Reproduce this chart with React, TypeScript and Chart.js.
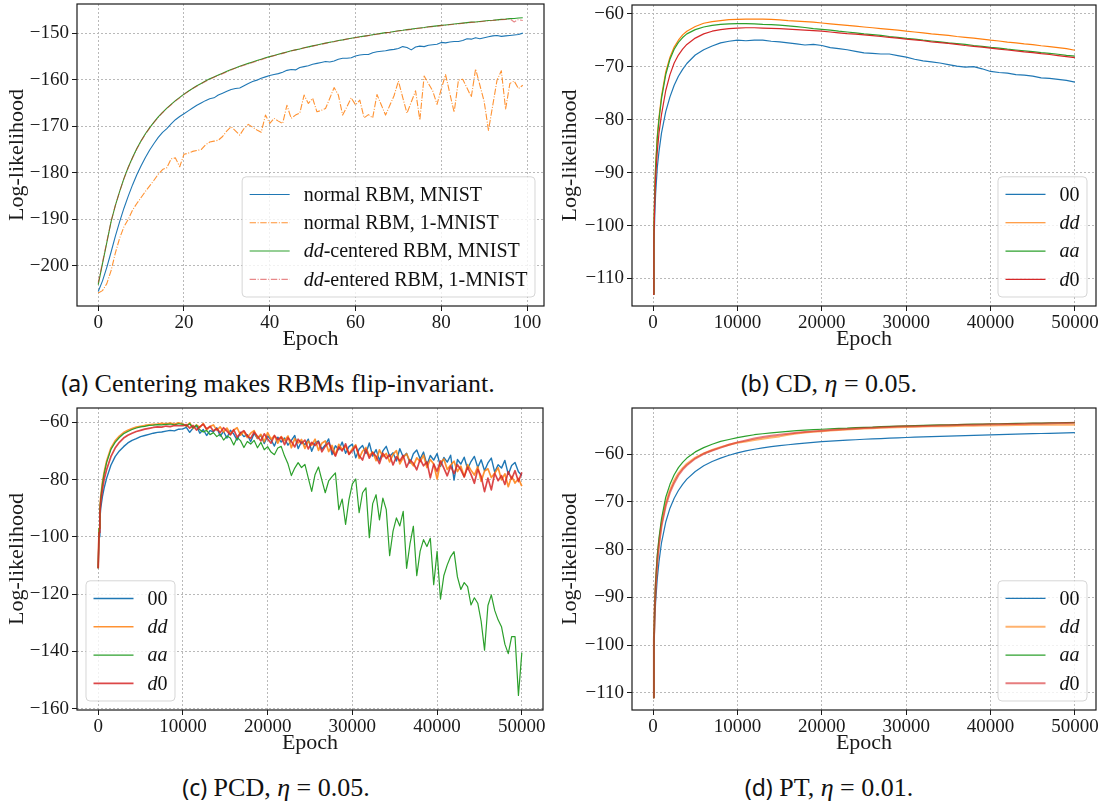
import React, { useEffect, useRef } from "react";
import { Chart, registerables } from "chart.js";
Chart.register(...registerables);

const FONT = '"Liberation Serif", "Times New Roman", serif';
Chart.defaults.font.family = FONT;

const BLUE = "#1f77b4";
const ORANGE = "#ff7f0e";
const GREEN = "#2ca02c";
const RED = "#d62728";
const DASHDOT = [6.4, 1.6, 1, 1.6];

// ---------- Panel (a) ----------
const EPOCHS_A = Array.from({ length: 100 }, (_, i) => i);
const A_NORMAL_MNIST = [
  -205.5, -203.2, -200.3, -197.0, -193.6, -190.5, -187.6, -185.0, -182.6, -180.4,
  -178.5, -176.7, -175.1, -173.7, -172.4, -171.3, -170.5, -169.5, -168.6, -167.9,
  -167.3, -166.7, -166.1, -165.5, -165.0, -164.5, -164.1, -163.9, -163.3, -162.9,
  -162.5, -162.1, -161.9, -161.8, -161.3, -160.8, -160.4, -160.1, -159.7, -159.4,
  -159.1, -158.9, -158.7, -158.4, -158.0, -157.8, -157.9, -157.4, -157.2, -157.0,
  -156.7, -156.5, -156.3, -156.1, -156.2, -156.0, -155.6, -155.4, -155.4, -155.3,
  -154.9, -154.7, -154.6, -154.6, -154.2, -154.0, -153.9, -153.8, -153.6, -153.5,
  -153.3, -152.9, -153.1, -153.6, -153.0, -152.8, -152.9, -152.6, -152.5, -152.4,
  -152.0, -152.1, -151.9, -151.8, -151.8, -151.6, -151.2, -151.3, -151.0, -151.2,
  -151.0, -150.8, -150.6, -150.5, -150.7, -150.6, -150.5, -150.4, -150.3, -150.0,
];
const A_NORMAL_1MNIST = [
  -205.8, -205.3, -203.8, -201.0, -197.2, -194.0, -191.6, -190.0, -188.0, -186.6,
  -185.3, -184.0, -182.8, -181.6, -180.3, -179.3, -178.9, -177.0, -176.8, -178.7,
  -176.0, -175.8, -175.4, -175.2, -175.0, -174.0, -173.4, -173.2, -173.0, -172.2,
  -171.0, -170.1, -171.0, -171.9, -170.5, -169.6, -170.2, -170.8, -171.3, -167.6,
  -169.4, -168.3, -168.9, -169.4, -165.5, -168.3, -167.6, -167.2, -163.3, -165.1,
  -164.0, -166.9, -166.6, -166.2, -164.0, -161.7, -163.3, -167.6, -165.8, -163.9,
  -165.4, -164.4, -168.2, -167.5, -168.2, -163.2, -165.4, -167.6, -165.5, -163.4,
  -160.3, -163.8, -167.2, -164.8, -162.4, -168.7, -159.2, -160.8, -162.4, -165.3,
  -162.0, -158.9, -163.0, -167.0, -160.1, -159.9, -161.8, -163.7, -157.7, -161.2,
  -164.7, -170.9, -165.5, -160.1, -158.1, -166.3, -160.8, -160.3, -161.9, -161.2,
];
const A_DD_MNIST = [
  -204.0, -199.5, -195.0, -190.5, -187.0, -184.0, -181.2, -178.8, -176.7, -174.8,
  -173.1, -171.6, -170.3, -169.1, -168.0, -167.0, -166.1, -165.3, -164.5, -163.8,
  -163.1, -162.5, -161.9, -161.3, -160.8, -160.3, -159.8, -159.4, -159.0, -158.6,
  -158.2, -157.8, -157.5, -157.1, -156.8, -156.5, -156.2, -155.9, -155.6, -155.3,
  -155.05, -154.8, -154.55, -154.3, -154.05, -153.8, -153.6, -153.4, -153.15, -152.95,
  -152.75, -152.55, -152.35, -152.15, -151.95, -151.8, -151.6, -151.45, -151.25, -151.1,
  -150.95, -150.8, -150.65, -150.5, -150.35, -150.2, -150.05, -149.9, -149.8, -149.65,
  -149.5, -149.4, -149.25, -149.15, -149.0, -148.9, -148.8, -148.65, -148.55, -148.45,
  -148.35, -148.25, -148.15, -148.05, -147.95, -147.85, -147.75, -147.65, -147.6, -147.5,
  -147.4, -147.3, -147.25, -147.15, -147.05, -147.0, -146.9, -146.85, -146.75, -146.7,
];
const A_DD_1MNIST = [
  -203.6, -199.2, -194.8, -190.4, -187.0, -184.0, -181.3, -178.9, -176.8, -174.9,
  -173.2, -171.7, -170.4, -169.2, -168.1, -167.1, -166.2, -165.4, -164.6, -163.9,
  -163.2, -162.5, -161.9, -161.4, -160.9, -160.4, -159.9, -159.5, -159.1, -158.7,
  -158.3, -157.9, -157.5, -157.2, -156.9, -156.6, -156.3, -156.0, -155.7, -155.4,
  -155.1, -154.85, -154.6, -154.35, -154.1, -153.85, -153.6, -153.4, -153.2, -153.0,
  -152.8, -152.6, -152.4, -152.2, -152.0, -151.85, -151.65, -151.5, -151.3, -151.15,
  -151.0, -150.85, -150.7, -150.55, -150.4, -150.25, -150.1, -149.95, -149.85, -149.7,
  -149.55, -149.45, -149.3, -149.2, -149.05, -148.95, -148.85, -148.7, -148.6, -148.5,
  -148.4, -148.3, -148.2, -148.1, -148.05, -147.9, -147.8, -147.7, -147.65, -147.55,
  -147.45, -147.35, -147.3, -147.2, -147.1, -147.05, -146.95, -147.6, -147.1, -147.3,
];
const A_X_TICKS = [0, 20, 40, 60, 80, 100];
const A_Y_TICKS = [-200, -190, -180, -170, -160, -150];

// ---------- Panels (b) and (d): shared epoch grid ----------
const EPOCHS_BD = [
  0, 100, 200, 300, 500, 700, 1000, 1500, 2000, 2500, 3000, 3500, 4000, 5000, 6000, 7000, 8000, 9000,
  ...Array.from({ length: 41 }, (_, i) => 10000 + 1000 * i),
];

// Panel (b) CD
const B_00 = [
  -113, -104, -98, -94, -89, -86, -82.5, -78.5, -75.7, -73.5, -71.8, -70.5, -69.4, -67.8, -66.8, -66.1, -65.5, -65.2,
  -65.0, -65.1, -65.0, -65.0, -65.2, -65.3, -65.5, -65.7, -65.9, -65.8,
  -66.0, -66.4, -66.6, -66.8, -67.1, -67.4, -67.5, -67.6, -67.6, -67.9,
  -68.2, -68.6, -68.9, -69.1, -69.3, -69.6, -69.9, -70.1, -70.0, -70.4,
  -70.9, -71.1, -71.2, -71.5, -71.6, -71.8, -72.1, -72.2, -72.4, -72.6, -72.9,
];
const B_DD = [
  -113, -100, -93, -88.5, -83, -79.5, -75.5, -71, -68.2, -66.3, -65, -64, -63.3, -62.4, -61.8, -61.5, -61.3, -61.1,
  -61.05, -61.0, -61.0, -61.0, -61.05, -61.15, -61.3, -61.4, -61.5, -61.6,
  -61.75, -61.9, -62.05, -62.2, -62.35, -62.5, -62.65, -62.8, -62.95, -63.1,
  -63.3, -63.45, -63.6, -63.8, -63.95, -64.1, -64.3, -64.45, -64.6, -64.8,
  -65.0, -65.15, -65.35, -65.5, -65.7, -65.85, -66.05, -66.2, -66.4, -66.6, -66.9,
];
const B_AA = [
  -113, -100.5, -93.5, -89, -83.5, -80, -76, -71.5, -68.6, -66.7, -65.4, -64.5, -63.8, -63.0, -62.5, -62.2, -62.0, -61.9,
  -61.85, -61.85, -61.9, -62.0, -62.05, -62.15, -62.3, -62.45, -62.6, -62.8,
  -62.95, -63.1, -63.3, -63.45, -63.6, -63.8, -63.95, -64.1, -64.3, -64.45,
  -64.65, -64.8, -65.0, -65.15, -65.3, -65.5, -65.65, -65.8, -66.0, -66.15,
  -66.35, -66.5, -66.7, -66.85, -67.0, -67.15, -67.35, -67.5, -67.65, -67.85, -68.0,
];
const B_D0 = [
  -113, -102, -95.5, -91, -86, -82.5, -79, -74.5, -71.5, -69.3, -67.8, -66.7, -65.8, -64.6, -63.8, -63.3, -63.0, -62.8,
  -62.7, -62.65, -62.65, -62.7, -62.75, -62.8, -62.9, -63.0, -63.1, -63.2,
  -63.3, -63.45, -63.6, -63.75, -63.85, -64.0, -64.15, -64.3, -64.45, -64.6,
  -64.8, -64.95, -65.1, -65.3, -65.45, -65.6, -65.8, -66.0, -66.15, -66.3,
  -66.5, -66.7, -66.85, -67.0, -67.2, -67.35, -67.55, -67.7, -67.9, -68.1, -68.3,
];

// Panel (d) PT
const D_00 = [
  -111, -101, -95, -91, -86, -82.5, -78.5, -74.2, -71.3, -69.2, -67.6, -66.3, -65.2, -63.6, -62.4, -61.5, -60.8, -60.2,
  -59.7, -59.3, -58.95, -58.65, -58.4, -58.2, -58.0, -57.8, -57.65, -57.5,
  -57.35, -57.25, -57.15, -57.05, -56.95, -56.85, -56.78, -56.7, -56.62, -56.55,
  -56.48, -56.42, -56.36, -56.3, -56.25, -56.2, -56.14, -56.08, -56.02, -55.97,
  -55.92, -55.87, -55.82, -55.78, -55.73, -55.68, -55.64, -55.6, -55.56, -55.52, -55.45,
];
const D_DD = [
  -111, -98.5, -92, -87.5, -82, -78.5, -74.5, -70.2, -67.5, -65.5, -64, -62.9, -62.0, -60.7, -59.8, -59.1, -58.5, -58.0,
  -57.6, -57.3, -57.0, -56.75, -56.5, -56.25, -55.9, -55.65, -55.45, -55.3,
  -55.15, -55.0, -54.9, -54.8, -54.7, -54.6, -54.55, -54.45, -54.4, -54.35,
  -54.3, -54.25, -54.2, -54.15, -54.12, -54.1, -54.07, -54.04, -54.0, -53.98,
  -53.95, -53.93, -53.9, -53.88, -53.85, -53.83, -53.82, -53.8, -53.8, -53.78, -53.8,
];
const D_AA = [
  -111, -98, -91, -86.5, -81, -77.5, -73.5, -69, -66.3, -64.3, -62.8, -61.7, -60.8, -59.5, -58.6, -57.9, -57.3, -56.9,
  -56.5, -56.2, -55.9, -55.7, -55.5, -55.35, -55.2, -55.05, -54.95, -54.85,
  -54.75, -54.65, -54.55, -54.5, -54.4, -54.35, -54.3, -54.2, -54.15, -54.1,
  -54.05, -54.0, -53.95, -53.9, -53.85, -53.82, -53.78, -53.75, -53.7, -53.67,
  -53.63, -53.6, -53.57, -53.54, -53.5, -53.48, -53.45, -53.42, -53.4, -53.37, -53.35,
];
const D_D0 = [
  -111, -98.8, -92.3, -88, -82.5, -79, -75, -70.8, -68, -66, -64.4, -63.2, -62.3, -60.9, -59.9, -59.2, -58.6, -58.0,
  -57.5, -57.1, -56.7, -56.4, -56.1, -55.9, -55.7, -55.5, -55.35, -55.2,
  -55.05, -54.9, -54.8, -54.7, -54.6, -54.5, -54.42, -54.35, -54.28, -54.2,
  -54.15, -54.1, -54.05, -54.0, -53.95, -53.9, -53.87, -53.83, -53.8, -53.77,
  -53.73, -53.7, -53.67, -53.64, -53.6, -53.57, -53.54, -53.5, -53.47, -53.43, -53.4,
];

// ---------- Panel (c) PCD ----------
const EPOCHS_C = [
  0, 100, 200, 300, 500, 700, 1000, 1500, 2000, 2500, 3000, 3500, 4000, 4500, 5000, 5500, 6000, 6500, 7000, 7500,
  8000, 8500, 9000, 9500,
  ...Array.from({ length: 101 }, (_, i) => 10000 + 400 * i),
];
const C_00 = [
  -111, -100, -94, -90, -86, -83, -79.5, -75, -72, -70, -68.5, -67.2, -66.3, -65.7, -65, -64.6, -64.2, -63.8, -63.5, -63.4,
  -63.1, -62.8, -63.0, -62.4,
  -62.3, -61.8, -63.5, -62.0, -61.2, -63.8, -62.5, -64.6, -62.9, -63.3,
  -61.9, -64.8, -63.2, -65.5, -62.8, -64.1, -66.2, -63.5, -65.0, -64.3,
  -66.8, -63.9, -65.7, -64.5, -67.4, -64.8, -66.1, -68.3, -65.2, -66.9,
  -65.5, -68.0, -66.3, -64.6, -69.2, -66.7, -67.8, -65.9, -70.1, -67.2,
  -66.5, -69.4, -67.9, -65.8, -71.3, -68.2, -69.6, -66.9, -70.8, -68.5,
  -67.6, -72.4, -69.3, -68.1, -70.9, -67.2, -71.8, -69.5, -73.3, -70.0,
  -68.4, -71.9, -70.6, -73.5, -69.2, -72.1, -70.8, -74.3, -71.0, -69.7,
  -72.8, -70.4, -74.9, -71.6, -73.2, -70.9, -75.4, -72.3, -73.9, -71.5,
  -80.2, -73.0, -74.6, -72.2, -76.3, -73.7, -71.9, -75.8, -73.1, -76.9,
  -74.2, -72.5, -77.4, -74.8, -76.0, -73.3, -78.2, -75.1, -74.0, -77.3, -78.6,
];
const C_DD = [
  -111, -97, -90, -86, -81, -77.5, -73.5, -69, -66.5, -64.8, -63.6, -62.8, -62.2, -61.7, -61.4, -61.1, -60.9, -60.7, -60.6, -60.4,
  -60.5, -60.3, -60.6, -60.2,
  -60.6, -61.4, -60.2, -62.1, -60.9, -61.8, -60.4, -62.6, -61.5, -60.9,
  -62.8, -61.6, -63.4, -62.0, -64.1, -62.7, -61.9, -64.5, -63.2, -65.3,
  -63.8, -62.9, -65.6, -64.2, -66.8, -63.6, -65.9, -64.7, -67.3, -65.0,
  -66.4, -64.8, -68.9, -65.7, -67.2, -66.0, -69.1, -66.6, -68.0, -65.9,
  -69.8, -67.3, -66.5, -70.2, -68.1, -71.4, -67.7, -69.5, -68.3, -71.0,
  -69.2, -67.9, -72.6, -70.1, -68.8, -71.7, -70.3, -73.4, -69.6, -72.0,
  -70.9, -73.8, -71.2, -69.9, -74.5, -72.3, -71.0, -73.6, -75.2, -72.4,
  -73.7, -71.5, -75.8, -73.0, -74.6, -79.8, -74.1, -72.8, -76.5, -74.9,
  -73.6, -77.2, -75.3, -79.0, -74.8, -76.7, -78.4, -75.5, -80.6, -77.0,
  -76.2, -79.3, -77.8, -75.9, -80.1, -78.0, -82.5, -78.9, -81.2, -79.6, -82.3,
];
const C_AA = [
  -111, -97, -90.5, -86.5, -81.5, -78, -74, -69.5, -67, -65.3, -64, -63.2, -62.5, -62, -61.6, -61.4, -61.1, -61, -60.8, -60.9,
  -60.7, -60.6, -60.9, -60.5,
  -60.7, -61.3, -60.5, -61.9, -61.0, -62.6, -63.4, -62.8, -64.3, -63.6,
  -65.0, -64.1, -66.2, -64.8, -65.5, -67.9, -65.3, -66.4, -68.8, -66.7,
  -67.6, -66.3, -68.9, -67.0, -69.6, -68.5, -70.4, -71.3, -69.0, -68.4,
  -71.8, -74.5, -78.6, -76.0, -74.1, -75.8, -74.7, -79.5, -84.1, -78.2,
  -75.6, -80.2, -84.6, -80.5, -79.0, -77.7, -90.5, -86.8, -95.7, -87.0,
  -81.5, -79.8, -91.6, -84.6, -82.9, -100.3, -88.4, -85.3, -94.1, -86.5,
  -90.5, -106.6, -98.0, -93.4, -96.2, -91.1, -111.0, -102.5, -96.3, -113.6,
  -105.0, -101.0, -103.4, -100.5, -116.7, -105.1, -121.8, -113.5, -109.8, -106.9,
  -105.2, -114.0, -118.4, -116.0, -117.4, -123.8, -121.3, -123.2, -129.5, -139.6,
  -124.0, -120.3, -125.7, -129.0, -131.4, -137.5, -140.8, -134.9, -134.9, -155.4, -140.5,
];
const C_D0 = [
  -111, -98.5, -92, -88, -83.5, -80, -76.5, -72, -69, -67, -65.5, -64.5, -63.8, -63.2, -62.8, -62.4, -62.1, -61.8, -61.6, -61.7,
  -61.3, -61.5, -61.1, -61.2,
  -61.2, -60.8, -62.0, -61.1, -62.7, -61.5, -60.7, -62.3, -61.4, -63.0,
  -62.2, -63.6, -61.9, -63.1, -64.4, -62.6, -65.2, -63.7, -62.9, -64.8,
  -65.6, -63.4, -64.9, -66.5, -64.0, -65.8, -67.3, -64.6, -66.1, -65.2,
  -67.8, -65.4, -66.7, -68.6, -65.9, -67.4, -66.2, -69.3, -67.0, -68.1,
  -66.8, -70.3, -68.4, -67.1, -69.7, -71.8, -68.6, -70.0, -67.5, -71.2,
  -69.9, -68.3, -71.6, -73.2, -69.4, -72.5, -70.6, -71.9, -74.4, -70.8,
  -72.7, -71.3, -74.9, -72.0, -73.5, -71.6, -75.7, -73.1, -74.3, -76.6,
  -72.9, -75.2, -73.8, -79.4, -74.6, -77.1, -73.5, -76.0, -78.7, -75.3,
  -77.9, -74.8, -76.6, -79.1, -75.7, -78.2, -81.3, -76.4, -78.9, -84.2,
  -79.5, -83.6, -77.8, -80.4, -78.6, -81.7, -77.2, -79.8, -76.9, -80.7, -77.5,
];

const EPOCH_TICKS = [0, 10000, 20000, 30000, 40000, 50000];
const B_Y_TICKS = [-110, -100, -90, -80, -70, -60];
const C_Y_TICKS = [-160, -140, -120, -100, -80, -60];
const D_Y_TICKS = [-110, -100, -90, -80, -70, -60];

const LBL_00 = [{ t: "00" }];
const LBL_DD = [{ t: "dd", i: true }];
const LBL_AA = [{ t: "aa", i: true }];
const LBL_D0 = [{ t: "d", i: true }, { t: "0" }];

// ---------- helpers ----------
function rgba(hex: string, a: number) {
  const n = parseInt(hex.slice(1), 16);
  return `rgba(${(n >> 16) & 255},${(n >> 8) & 255},${n & 255},${a})`;
}
const fmt = (v: number) => (v < 0 ? "\u2212" + Math.abs(v) : String(v));

const mplPlugin = {
  id: "mpl",
  afterDatasetsDraw(chart: any) {
    const { ctx, chartArea: ca } = chart;
    const opts = chart.options.plugins.mplLegend;
    ctx.save();
    ctx.strokeStyle = "#1a1a1a";
    ctx.lineWidth = 1.2;
    ctx.setLineDash([]);
    ctx.strokeRect(ca.left, ca.top, ca.right - ca.left, ca.bottom - ca.top);
    const F = opts.fontSize;
    const up = `${F}px ${FONT}`;
    const it = `italic ${F}px ${FONT}`;
    const widths = opts.items.map((item: any) =>
      item.label.reduce((w: number, s: any) => {
        ctx.font = s.i ? it : up;
        return w + ctx.measureText(s.t).width;
      }, 0)
    );
    const textW = Math.max(...widths);
    const boxW = opts.hpad * 2 + opts.handle + opts.htp + textW;
    const boxH = opts.vpad * 2 + opts.rowH * opts.items.length;
    const x0 = opts.loc === "lower left" ? ca.left + opts.axPad : ca.right - opts.axPad - boxW;
    const y0 = ca.bottom - opts.axPad - boxH;
    const r = 4;
    ctx.beginPath();
    ctx.moveTo(x0 + r, y0);
    ctx.lineTo(x0 + boxW - r, y0);
    ctx.arcTo(x0 + boxW, y0, x0 + boxW, y0 + r, r);
    ctx.lineTo(x0 + boxW, y0 + boxH - r);
    ctx.arcTo(x0 + boxW, y0 + boxH, x0 + boxW - r, y0 + boxH, r);
    ctx.lineTo(x0 + r, y0 + boxH);
    ctx.arcTo(x0, y0 + boxH, x0, y0 + boxH - r, r);
    ctx.lineTo(x0, y0 + r);
    ctx.arcTo(x0, y0, x0 + r, y0, r);
    ctx.closePath();
    ctx.fillStyle = "rgba(255,255,255,0.8)";
    ctx.fill();
    ctx.strokeStyle = "rgba(204,204,204,0.8)";
    ctx.lineWidth = 1;
    ctx.stroke();
    opts.items.forEach((item: any, k: number) => {
      const cy = y0 + opts.vpad + opts.rowH * (k + 0.5);
      ctx.beginPath();
      ctx.strokeStyle = rgba(item.color, item.alpha ?? 1);
      ctx.lineWidth = item.width ?? 1.2;
      ctx.setLineDash(item.dash ?? []);
      ctx.moveTo(x0 + opts.hpad, cy);
      ctx.lineTo(x0 + opts.hpad + opts.handle, cy);
      ctx.stroke();
      ctx.setLineDash([]);
      let tx = x0 + opts.hpad + opts.handle + opts.htp;
      ctx.fillStyle = "#111";
      ctx.textBaseline = "middle";
      ctx.textAlign = "left";
      item.label.forEach((s: any) => {
        ctx.font = s.i ? it : up;
        ctx.fillText(s.t, tx, cy + 1);
        tx += ctx.measureText(s.t).width;
      });
    });
    ctx.restore();
  },
};

type Series = { values: number[]; color: string; alpha?: number; width?: number; dash?: number[]; label: any[] };
type Spec = {
  xs: number[];
  series: Series[];
  xMin: number; xMax: number; yMin: number; yMax: number;
  xTicks: number[]; yTicks: number[];
  padTop: number; padRight: number; yAxisW: number; xAxisH: number;
  xTitlePad: number; yTitlePad: number;
  loc: string;
};

const TICK_FONT = { family: FONT, size: 19 };
const TITLE_FONT = { family: FONT, size: 22 };
const GRID = "#b9b9b9";

function buildConfig(s: Spec): any {
  const n = s.series.length;
  return {
    type: "line",
    data: {
      datasets: s.series.map((ser, k) => ({
        data: ser.values.map((v, i) => ({ x: s.xs[i], y: v })),
        borderColor: rgba(ser.color, ser.alpha ?? 1),
        borderWidth: ser.width ?? 1.2,
        borderDash: ser.dash ?? [],
        borderJoinStyle: "round",
        pointRadius: 0,
        pointHoverRadius: 0,
        tension: 0,
        fill: false,
        order: n - k,
      })),
    },
    options: {
      responsive: false,
      animation: false,
      events: [],
      layout: { padding: { left: 0, top: s.padTop, right: s.padRight, bottom: 0 } },
      plugins: {
        legend: { display: false },
        tooltip: { enabled: false },
        mplLegend: {
          loc: s.loc,
          fontSize: 20,
          hpad: 7.5,
          vpad: 3.5,
          handle: 40,
          htp: 14,
          rowH: 28.3,
          axPad: 9,
          items: s.series.map((ser) => ({
            label: ser.label,
            color: ser.color,
            alpha: ser.alpha,
            width: ser.width,
            dash: ser.dash,
          })),
        },
      },
      scales: {
        x: {
          type: "linear",
          min: s.xMin,
          max: s.xMax,
          afterBuildTicks: (sc: any) => {
            sc.ticks = s.xTicks.map((v) => ({ value: v }));
          },
          afterFit: (sc: any) => {
            sc.height = s.xAxisH;
            sc.paddingLeft = 0; sc.paddingRight = 0; sc.paddingTop = 0; sc.paddingBottom = 0;
          },
          ticks: { callback: (v: number) => fmt(v), font: TICK_FONT, color: "#1a1a1a", padding: 1, maxRotation: 0, autoSkip: false },
          grid: { color: GRID, lineWidth: 1, tickLength: 5, tickColor: "#1a1a1a", tickWidth: 1, drawTicks: true },
          border: { display: false, dash: [2, 2] },
          title: { display: true, text: "Epoch", font: TITLE_FONT, color: "#1a1a1a", padding: { top: 0, bottom: s.xTitlePad } },
        },
        y: {
          type: "linear",
          min: s.yMin,
          max: s.yMax,
          afterBuildTicks: (sc: any) => {
            sc.ticks = s.yTicks.map((v) => ({ value: v }));
          },
          afterFit: (sc: any) => {
            sc.width = s.yAxisW;
            sc.paddingLeft = 0; sc.paddingRight = 0; sc.paddingTop = 0; sc.paddingBottom = 0;
          },
          ticks: { callback: (v: number) => fmt(v), font: TICK_FONT, color: "#1a1a1a", padding: 3, autoSkip: false },
          grid: { color: GRID, lineWidth: 1, tickLength: 5, tickColor: "#1a1a1a", tickWidth: 1, drawTicks: true },
          border: { display: false, dash: [2, 2] },
          title: { display: true, text: "Log-likelihood", font: TITLE_FONT, color: "#1a1a1a", padding: { top: s.yTitlePad, bottom: 0 } },
        },
      },
    },
    plugins: [mplPlugin],
  };
}

const SPEC_A: Spec = {
  xs: EPOCHS_A,
  series: [
    { values: A_NORMAL_MNIST, color: BLUE, width: 1.1, label: [{ t: "normal RBM, MNIST" }] },
    { values: A_NORMAL_1MNIST, color: ORANGE, alpha: 0.85, width: 1.1, dash: DASHDOT, label: [{ t: "normal RBM, 1-MNIST" }] },
    { values: A_DD_MNIST, color: GREEN, width: 1.1, label: [{ t: "dd", i: true }, { t: "-centered RBM, MNIST" }] },
    { values: A_DD_1MNIST, color: RED, alpha: 0.55, width: 1.1, dash: DASHDOT, label: [{ t: "dd", i: true }, { t: "-entered RBM, 1-MNIST" }] },
  ],
  xMin: -4.95, xMax: 103.95, yMin: -208.6, yMax: -143.75,
  xTicks: A_X_TICKS, yTicks: A_Y_TICKS,
  padTop: 4, padRight: 8, yAxisW: 77, xAxisH: 54, xTitlePad: 8, yTitlePad: 4,
  loc: "lower right",
};
const SPEC_B: Spec = {
  xs: EPOCHS_BD,
  series: [
    { values: B_00, color: BLUE, label: LBL_00 },
    { values: B_DD, color: ORANGE, label: LBL_DD },
    { values: B_AA, color: GREEN, label: LBL_AA },
    { values: B_D0, color: RED, label: LBL_D0 },
  ],
  xMin: -2500, xMax: 52500, yMin: -115.2, yMax: -58.35,
  xTicks: EPOCH_TICKS, yTicks: B_Y_TICKS,
  padTop: 5, padRight: 8, yAxisW: 80, xAxisH: 54, xTitlePad: 8, yTitlePad: 5,
  loc: "lower right",
};
const SPEC_C: Spec = {
  xs: EPOCHS_C,
  series: [
    { values: C_00, color: BLUE, width: 1.4, label: LBL_00 },
    { values: C_DD, color: ORANGE, width: 1.7, alpha: 0.85, label: LBL_DD },
    { values: C_AA, color: GREEN, width: 1.2, label: LBL_AA },
    { values: C_D0, color: RED, width: 1.7, alpha: 0.85, label: LBL_D0 },
  ],
  xMin: -2500, xMax: 52500, yMin: -160.5, yMax: -55,
  xTicks: EPOCH_TICKS, yTicks: C_Y_TICKS,
  padTop: 8, padRight: 9, yAxisW: 77, xAxisH: 52, xTitlePad: 6, yTitlePad: 4,
  loc: "lower left",
};
const SPEC_D: Spec = {
  xs: EPOCHS_BD,
  series: [
    { values: D_00, color: BLUE, label: LBL_00 },
    { values: D_DD, color: ORANGE, width: 2, alpha: 0.6, label: LBL_DD },
    { values: D_AA, color: GREEN, label: LBL_AA },
    { values: D_D0, color: RED, width: 2, alpha: 0.6, label: LBL_D0 },
  ],
  xMin: -2500, xMax: 52500, yMin: -113.6, yMax: -50.3,
  xTicks: EPOCH_TICKS, yTicks: D_Y_TICKS,
  padTop: 8, padRight: 8, yAxisW: 80, xAxisH: 52, xTitlePad: 6, yTitlePad: 5,
  loc: "lower right",
};

function Panel({ spec, left, top, width, height }: { spec: Spec; left: number; top: number; width: number; height: number }) {
  const ref = useRef<HTMLCanvasElement>(null);
  useEffect(() => {
    const chart = new Chart(ref.current as HTMLCanvasElement, buildConfig(spec));
    return () => chart.destroy();
  }, [spec]);
  return <canvas ref={ref} width={width} height={height} style={{ position: "absolute", left, top, width, height }} />;
}

function Caption({ cx, cy, tag, children }: { cx: number; cy: number; tag: string; children: React.ReactNode }) {
  return (
    <div
      style={{
        position: "absolute",
        left: cx,
        top: cy - 16,
        transform: "translateX(-50%)",
        whiteSpace: "nowrap",
        lineHeight: "32px",
        fontFamily: FONT,
        fontSize: 26,
        color: "#111",
      }}
    >
      <span style={{ fontFamily: '"Noto Sans", "DejaVu Sans", sans-serif', fontSize: 23 }}>({tag})</span> {children}
    </div>
  );
}

export default function App() {
  return (
    <div style={{ position: "fixed", left: 0, top: 0, width: 1104, height: 805, background: "#fff", overflow: "hidden" }}>
      <Panel spec={SPEC_A} left={0} top={0} width={552} height={360} />
      <Panel spec={SPEC_B} left={552} top={0} width={552} height={360} />
      <Panel spec={SPEC_C} left={0} top={400} width={552} height={362} />
      <Panel spec={SPEC_D} left={552} top={400} width={552} height={362} />
      <Caption cx={278} cy={383} tag="a">Centering makes RBMs flip-invariant.</Caption>
      <Caption cx={829} cy={383} tag="b">
        CD, <i>η</i> = 0.05.
      </Caption>
      <Caption cx={276} cy={787} tag="c">
        PCD, <i>η</i> = 0.05.
      </Caption>
      <Caption cx={829} cy={787} tag="d">
        PT, <i>η</i> = 0.01.
      </Caption>
    </div>
  );
}
